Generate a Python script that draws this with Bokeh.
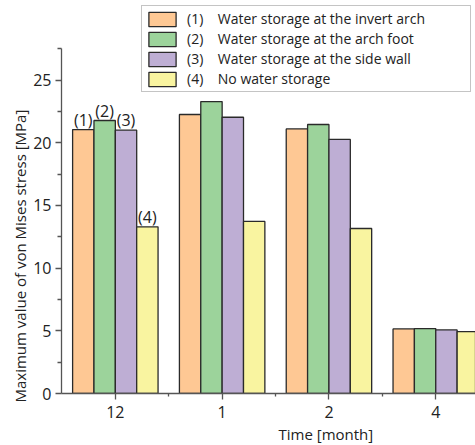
from bokeh.plotting import figure
from bokeh.models import (ColumnDataSource, Legend, LegendItem, FixedTicker, Range1d, Title)
from bokeh.core.properties import value
from bokeh.embed import file_html
from bokeh.resources import INLINE

# ---- data ----
months = ["12", "1", "2", "4"]
series_tags = ["(1)", "(2)", "(3)", "(4)"]
series_names = ["Water storage at the invert arch",
                "Water storage at the arch foot",
                "Water storage at the side wall",
                "No water storage"]
invert_arch = [21.05, 22.25, 21.10, 5.15]
arch_foot = [21.77, 23.28, 21.45, 5.18]
side_wall = [21.00, 22.03, 20.26, 5.07]
no_water = [13.29, 13.72, 13.16, 4.94]
y_ticks = [0, 5, 10, 15, 20, 25]
y_axis_max = 27.5
y_title = "Maximum value of von Mises stress [MPa]"
x_title = "Time [month]"

series = [invert_arch, arch_foot, side_wall, no_water]
colors = ["#FEC894", "#9CD39B", "#BEAED4", "#F9F4A0"]
offsets = [-0.3, -0.1, 0.1, 0.3]
bar_w = 0.2
FONT = "Open Sans"

p = figure(width=475, height=445, output_backend="svg", toolbar_location=None,
           x_range=Range1d(-0.504, 3.372), y_range=Range1d(0, 31.34),
           min_border_left=61, min_border_right=0, min_border_top=0,
           min_border_bottom=52)
p.outline_line_color = None
p.xgrid.visible = False
p.ygrid.visible = False
p.background_fill_color = "white"

xs = list(range(len(months)))
renderers = []
for vals, off, col in zip(series, offsets, colors):
    src = ColumnDataSource(dict(x=[i + off for i in xs], top=vals))
    r = p.vbar(x="x", top="top", width=bar_w, source=src, fill_color=col,
               line_color="#2a2a2a", line_width=1.3)
    renderers.append(r)

# bar tags above the first group
first = [s[0] for s in series]
tsrc = ColumnDataSource(dict(x=[xs[0] + o for o in offsets], y=first, t=series_tags))
p.text(x="x", y="y", text="t", source=tsrc, text_align="center",
       text_baseline="bottom", text_font=value(FONT), text_font_size="16px",
       text_color="#222222", y_offset=1)

# axes
for ax in (p.xaxis[0], p.yaxis[0]):
    ax.axis_line_color = "#555555"
    ax.axis_line_width = 1.3
    ax.major_tick_line_color = "#555555"
    ax.minor_tick_line_color = "#555555"
    ax.major_tick_line_width = 1.3
    ax.minor_tick_line_width = 1.3
    ax.major_tick_in = 0
    ax.minor_tick_in = 0
    ax.major_label_text_font = FONT
    ax.major_label_text_font_size = "16px"
    ax.major_label_text_color = "#222222"

p.xaxis.ticker = FixedTicker(ticks=xs, minor_ticks=[i + 0.5 for i in xs])
p.xaxis.major_label_overrides = {i: m for i, m in enumerate(months)}
p.xaxis.major_tick_out = 6
p.xaxis.minor_tick_out = 3
p.xaxis.major_label_standoff = 6

p.yaxis.ticker = FixedTicker(ticks=y_ticks, minor_ticks=[t + 2.5 for t in y_ticks])
p.yaxis.bounds = (0, y_axis_max)
p.yaxis.major_tick_out = 6
p.yaxis.minor_tick_out = 4
p.yaxis.major_label_standoff = 4

# axis titles
p.add_layout(Title(text=y_title, align="left", offset=-9, text_font=FONT,
                   text_font_size="15px", text_font_style="normal",
                   text_color="#222222", standoff=2), "left")
p.add_layout(Title(text=x_title, align="left", offset=217, text_font=FONT,
                   text_font_size="15px", text_font_style="normal",
                   text_color="#222222", standoff=2), "below")

# legend
gap = "\u00a0" * 4
items = [LegendItem(label=f"{t}{gap}{n}", renderers=[r])
         for t, n, r in zip(series_tags, series_names, renderers)]
legend = Legend(items=items, location=(80, 301), glyph_width=34, glyph_height=18,
                label_height=18, spacing=1, padding=3, margin=0, label_standoff=8,
                label_width=280, label_text_font=FONT, label_text_font_size="14px",
                label_text_color="#222222", border_line_color="#8a8a8a",
                border_line_width=1, background_fill_alpha=1.0)
p.add_layout(legend, "center")

open("out.html", "w").write(file_html(p, INLINE))
